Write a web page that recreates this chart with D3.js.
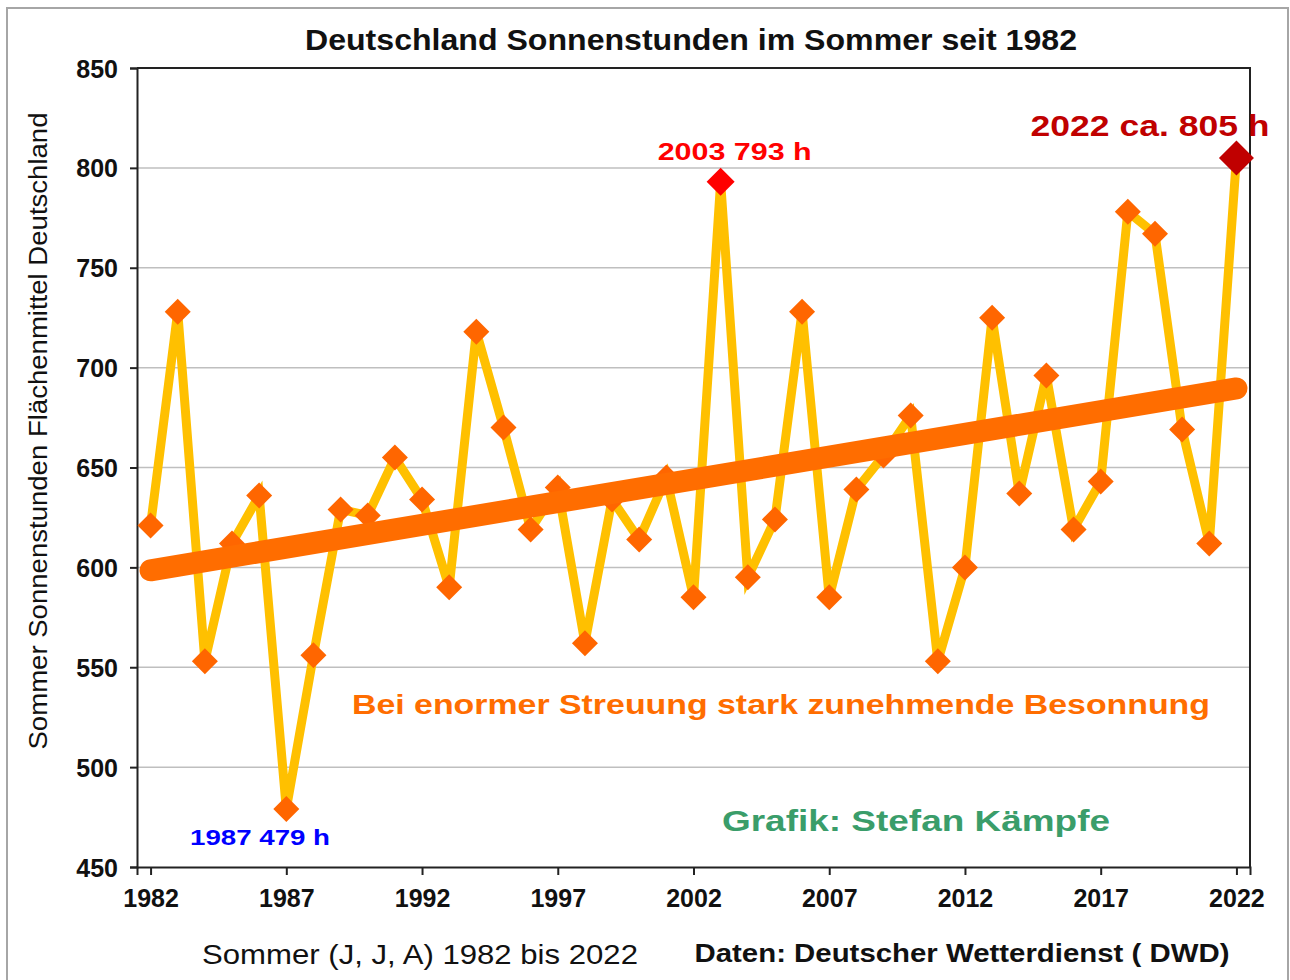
<!DOCTYPE html>
<html>
<head>
<meta charset="utf-8">
<script src="https://cdn.jsdelivr.net/npm/d3@7"></script>
<style>
  body { margin: 0; background: #fff; }
  svg { display: block; font-family: "Liberation Sans", Arial, sans-serif; }
</style>
</head>
<body>
<div id="chart"></div>
<script>
const years = d3.range(1982, 2023);
const sunHours = [
  621, 728, 553, 612, 636, 479, 556, 629, 626, 655,
  634, 590, 718, 670, 619, 640, 562, 634, 614, 645,
  585, 793, 595, 624, 728, 585, 639, 656, 676, 553,
  600, 725, 637, 696, 619, 643, 778, 767, 669, 612,
  805
];
const yTicks = [450, 500, 550, 600, 650, 700, 750, 800, 850];
const xTicks = [1982, 1987, 1992, 1997, 2002, 2007, 2012, 2017, 2022];

const width = 1290;
const height = 980;
const plot = { left: 137, right: 1250, top: 68, bottom: 867 };

const svg = d3.select("#chart").append("svg")
  .attr("width", width)
  .attr("height", height);

// outer frame
svg.append("rect")
  .attr("x", 7).attr("y", 8)
  .attr("width", 1281).attr("height", 990)
  .attr("fill", "#fff")
  .attr("stroke", "#a6a6a6")
  .attr("stroke-width", 2);

const x = d3.scaleLinear().domain([1981.5, 2022.5]).range([plot.left, plot.right]);
const y = d3.scaleLinear().domain([450, 850]).range([plot.bottom, plot.top]);

// gridlines
svg.append("g")
  .selectAll("line")
  .data(yTicks.filter((t) => t > 450 && t < 850))
  .join("line")
  .attr("x1", plot.left).attr("x2", plot.right)
  .attr("y1", (d) => y(d)).attr("y2", (d) => y(d))
  .attr("stroke", "#bfbfbf")
  .attr("stroke-width", 1.5);

// plot box: top and right border
svg.append("path")
  .attr("d", `M${plot.left},${plot.top}H${plot.right}V${plot.bottom}`)
  .attr("fill", "none")
  .attr("stroke", "#222")
  .attr("stroke-width", 2);

const yAxis = svg.append("g")
  .attr("transform", `translate(${plot.left},0)`)
  .call(d3.axisLeft(y).tickValues(yTicks).tickSize(7).tickPadding(12).tickFormat(d3.format("d")));

const xAxis = svg.append("g")
  .attr("transform", `translate(0,${plot.bottom})`)
  .call(d3.axisBottom(x).tickValues(xTicks).tickSize(8).tickPadding(14).tickFormat(d3.format("d")));

[yAxis, xAxis].forEach((axis) => {
  axis.select(".domain").attr("stroke", "#222").attr("stroke-width", 2);
  axis.selectAll(".tick line").attr("stroke", "#222").attr("stroke-width", 2);
  axis.selectAll(".tick text")
    .attr("font-family", "Liberation Sans, Arial, sans-serif")
    .attr("font-size", 25)
    .attr("font-weight", 700)
    .attr("fill", "#111");
});
yAxis.selectAll(".tick text").attr("dy", "0.36em");

const points = years.map((year, i) => ({ year, value: sunHours[i] }));

// yearly series
svg.append("path")
  .datum(points)
  .attr("fill", "none")
  .attr("stroke", "#ffc000")
  .attr("stroke-width", 9)
  .attr("stroke-linejoin", "miter")
  .attr("d", d3.line().x((d) => x(d.year)).y((d) => y(d.value)));

const diamond = (s) => `M0,${-s}L${s},0L0,${s}L${-s},0Z`;

svg.append("g")
  .selectAll("path")
  .data(points.filter((d) => d.year !== 2003 && d.year !== 2022))
  .join("path")
  .attr("transform", (d) => `translate(${x(d.year)},${y(d.value)})`)
  .attr("d", diamond(13))
  .attr("fill", "#ff6600");

// linear trend
const meanX = d3.mean(years);
const meanY = d3.mean(sunHours);
const slope = d3.sum(points, (d) => (d.year - meanX) * (d.value - meanY)) /
  d3.sum(points, (d) => (d.year - meanX) ** 2);
const trend = [1982, 2022].map((year) => ({ year, value: meanY + slope * (year - meanX) }));

svg.append("path")
  .datum(trend)
  .attr("fill", "none")
  .attr("stroke", "#ff6d00")
  .attr("stroke-width", 22)
  .attr("stroke-linecap", "round")
  .attr("d", d3.line().x((d) => x(d.year)).y((d) => y(d.value)));

// highlighted records
const highlights = [
  { year: 2003, size: 14, color: "#ff0000" },
  { year: 2022, size: 17.5, color: "#c00000" }
];
svg.append("g")
  .selectAll("path")
  .data(highlights)
  .join("path")
  .attr("transform", (d) => `translate(${x(d.year)},${y(sunHours[years.indexOf(d.year)])})`)
  .attr("d", (d) => diamond(d.size))
  .attr("fill", (d) => d.color);

// text annotations (the original is stretched horizontally, so glyphs are fitted to width)
function label(text, cx, cy, size, len, color, weight = 700) {
  return svg.append("text")
    .attr("x", cx).attr("y", cy)
    .attr("text-anchor", "middle")
    .attr("font-size", size)
    .attr("font-weight", weight)
    .attr("textLength", len)
    .attr("lengthAdjust", "spacingAndGlyphs")
    .attr("fill", color)
    .text(text);
}

label("Deutschland Sonnenstunden im Sommer seit 1982", 691, 50, 29, 772, "#111");
label("2003 793 h", x(2003) + 14, y(793) - 22, 24, 154, "#ff0000");
label("2022 ca. 805 h", 1150, y(805) - 22, 30, 239, "#c00000");
label("1987 479 h", 260, y(479) + 36, 22, 140, "#0000ff");
label("Bei enormer Streuung stark zunehmende Besonnung", 781, 714, 28, 858, "#ff6d00");
label("Grafik: Stefan Kämpfe", 916, 831, 29, 388, "#3a9d6a");
label("Sommer (J, J, A) 1982 bis 2022", 420, 964, 28, 436, "#111", 400);
label("Daten: Deutscher Wetterdienst ( DWD)", 962, 962, 26, 535, "#111");

svg.append("text")
  .attr("transform", "translate(47,431) rotate(-90)")
  .attr("text-anchor", "middle")
  .attr("font-size", 26)
  .attr("textLength", 637)
  .attr("lengthAdjust", "spacingAndGlyphs")
  .attr("fill", "#111")
  .text("Sommer Sonnenstunden Flächenmittel Deutschland");
</script>
</body>
</html>
